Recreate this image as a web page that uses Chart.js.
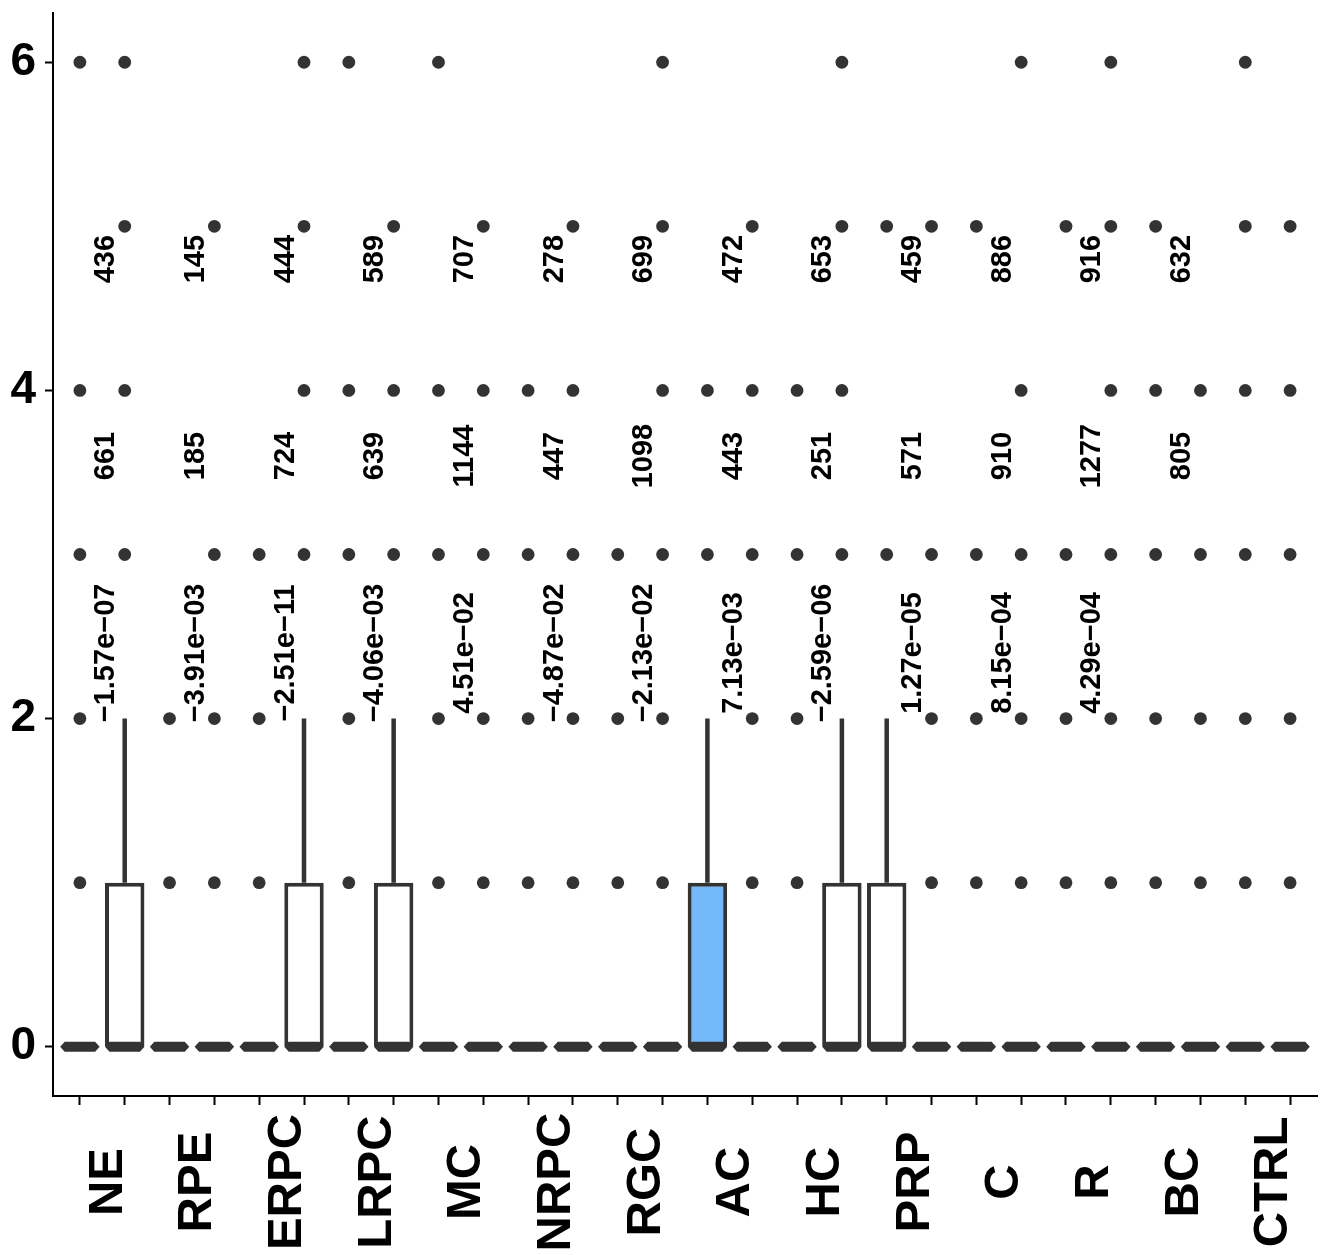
<!DOCTYPE html>
<html>
<head>
<meta charset="utf-8">
<script src="https://cdn.jsdelivr.net/npm/chart.js@4.4.1/dist/chart.umd.min.js"></script>
<style>
  html, body { margin: 0; padding: 0; background: #fff; }
  #wrap { width: 1324px; height: 1255px; position: relative; }
</style>
</head>
<body>
<div id="wrap"><canvas id="chart"></canvas></div>
<script>
// cell types, each one has two slots (left / right) on the x axis
const categories = ['NE', 'RPE', 'ERPC', 'LRPC', 'MC', 'NRPC', 'RGC', 'AC', 'HC', 'PRP', 'C', 'R', 'BC', 'CTRL'];
const yTicks = [0, 2, 4, 6];

// median of every slot (28 slots)
const medians = [0, 0, 0, 0, 0, 0, 0, 0, 0, 0, 0, 0, 0, 0, 0, 0, 0, 0, 0, 0, 0, 0, 0, 0, 0, 0, 0, 0];

// slots that have a real box (Q1 < Q3)
const boxSlots = [1, 5, 7, 14, 17, 18];
const boxLower = [0, 0, 0, 0, 0, 0];
const boxUpper = [1, 1, 1, 1, 1, 1];
const whiskerTop = [2, 2, 2, 2, 2, 2];

// outlier values per slot
const outliers = [
    [1, 2, 3, 4, 6],       // NE
    [3, 4, 5, 6],
    [1, 2],                // RPE
    [1, 2, 3, 5],
    [1, 2, 3],             // ERPC
    [3, 4, 5, 6],
    [1, 2, 3, 4, 6],       // LRPC
    [3, 4, 5],
    [1, 2, 3, 4, 6],       // MC
    [1, 2, 3, 4, 5],
    [1, 2, 3, 4],          // NRPC
    [1, 2, 3, 4, 5],
    [1, 2, 3],             // RGC
    [1, 2, 3, 4, 5, 6],
    [3, 4],                // AC
    [1, 2, 3, 4, 5],
    [1, 2, 3, 4],          // HC
    [3, 4, 5, 6],
    [3, 5],                // PRP
    [1, 2, 3, 5],
    [1, 2, 3, 5],          // C
    [1, 2, 3, 4, 6],
    [1, 2, 3, 5],          // R
    [1, 2, 3, 4, 5, 6],
    [1, 2, 3, 4, 5],       // BC
    [1, 2, 3, 4],
    [1, 2, 3, 4, 5, 6],    // CTRL
    [1, 2, 3, 4, 5],
];

// annotations per cell type (CTRL has none)
const countsTop = [436, 145, 444, 589, 707, 278, 699, 472, 653, 459, 886, 916, 632];
const countsMid = [661, 185, 724, 639, 1144, 447, 1098, 443, 251, 571, 910, 1277, 805];
const pValues = ['\u22121.57e\u221207', '\u22123.91e\u221203', '\u22122.51e\u221211', '\u22124.06e\u221203',
                 '4.51e\u221202', '\u22124.87e\u221202', '\u22122.13e\u221202', '7.13e\u221203',
                 '\u22122.59e\u221206', '1.27e\u221205', '8.15e\u221204', '4.29e\u221204'];

// style
const DARK = '#333333';
const HIGHLIGHT = '#74b9fa';
const HIGHLIGHT_SLOT = 14;
const BOX_WIDTH = 0.88;   // fraction of slot spacing
const FONT = "'Liberation Sans', Arial, Helvetica, sans-serif";
const ROW_TOP = 4.8, ROW_MID = 3.6, ROW_P = 2.4;  // y levels of the text rows

Chart.defaults.font.family = FONT;

const slots = categories.flatMap((c, i) => [2 * i, 2 * i + 1]);

const boxData = boxSlots.map((s, i) => ({ x: s, y: [boxLower[i], boxUpper[i]] }));
const pointData = outliers.flatMap((vals, s) => vals.map(v => ({ x: s, y: v })));

const boxExtras = {
    id: 'boxExtras',
    afterDatasetsDraw(chart) {
        const { ctx, scales: { x, y } } = chart;
        const halfW = (x.getPixelForValue(1) - x.getPixelForValue(0)) * BOX_WIDTH / 2;
        ctx.save();
        ctx.strokeStyle = DARK;
        ctx.fillStyle = DARK;
        // whiskers
        ctx.lineWidth = 4.5;
        boxSlots.forEach((s, i) => {
            const px = x.getPixelForValue(s);
            ctx.beginPath();
            ctx.moveTo(px, y.getPixelForValue(boxUpper[i]));
            ctx.lineTo(px, y.getPixelForValue(whiskerTop[i]));
            ctx.stroke();
        });
        // medians (thick band with bevelled ends)
        medians.forEach((m, s) => {
            const px = x.getPixelForValue(s), py = y.getPixelForValue(m);
            ctx.beginPath();
            ctx.moveTo(px - halfW, py);
            ctx.lineTo(px - halfW + 4.5, py - 5);
            ctx.lineTo(px + halfW - 4.5, py - 5);
            ctx.lineTo(px + halfW, py);
            ctx.lineTo(px + halfW - 4.5, py + 5);
            ctx.lineTo(px - halfW + 4.5, py + 5);
            ctx.closePath();
            ctx.fill();
        });
        ctx.restore();
    }
};

const textLayer = {
    id: 'textLayer',
    afterDraw(chart) {
        const { ctx, chartArea, scales: { x, y } } = chart;
        const drawUp = (txt, px, py, size) => {
            ctx.save();
            ctx.translate(px, py);
            ctx.rotate(-Math.PI / 2);
            ctx.font = `bold ${size}px ${FONT}`;
            ctx.fillStyle = '#000';
            ctx.textAlign = 'center';
            ctx.textBaseline = 'middle';
            ctx.fillText(txt, 0, 0);
            ctx.restore();
        };
        categories.forEach((c, i) => {
            const cx = x.getPixelForValue(2 * i + 0.5);
            if (i < countsTop.length) drawUp(String(countsTop[i]), cx + 4, y.getPixelForValue(ROW_TOP), 29);
            if (i < countsMid.length) drawUp(String(countsMid[i]), cx + 4, y.getPixelForValue(ROW_MID), 29);
            if (i < pValues.length) drawUp(pValues[i], cx + 4, y.getPixelForValue(ROW_P), 29);
            // category labels under the axis
            drawUp(c, cx + 6, chartArea.bottom + 86, 49);
        });
    }
};

new Chart(document.getElementById('chart'), {
    type: 'bar',
    data: {
        datasets: [
            {
                type: 'scatter',
                data: pointData,
                pointRadius: 6.4,
                pointBorderWidth: 0,
                pointBackgroundColor: DARK,
                pointHoverRadius: 6.4,
            },
            {
                type: 'bar',
                data: boxData,
                backgroundColor: boxSlots.map(s => s === HIGHLIGHT_SLOT ? HIGHLIGHT : '#ffffff'),
                borderColor: DARK,
                borderWidth: 4,
                borderSkipped: false,
                categoryPercentage: 1,
                barPercentage: BOX_WIDTH,
            },
        ]
    },
    options: {
        responsive: true,
        maintainAspectRatio: false,
        animation: false,
        events: [],
        layout: { padding: { top: 13, right: 7, left: 0, bottom: 0 } },
        plugins: {
            legend: { display: false },
            tooltip: { enabled: false },
        },
        scales: {
            x: {
                type: 'linear',
                min: -0.6,
                max: 27.6,
                offset: false,
                afterBuildTicks: (scale) => { scale.ticks = slots.map(v => ({ value: v })); },
                afterFit: (scale) => {
                    scale.height = 159;
                    scale.paddingLeft = 0;
                    scale.paddingRight = 0;
                },
                ticks: { display: false },
                grid: {
                    offset: false,
                    drawOnChartArea: false,
                    drawTicks: true,
                    tickLength: 9,
                    tickColor: '#000',
                    tickWidth: 2,
                },
                border: { display: true, color: '#000', width: 2 },
            },
            y: {
                type: 'linear',
                min: -0.3,
                max: 6.3,
                afterBuildTicks: (scale) => { scale.ticks = yTicks.map(v => ({ value: v })); },
                afterFit: (scale) => {
                    scale.width = 53;
                    scale.paddingTop = 0;
                    scale.paddingBottom = 0;
                },
                ticks: {
                    color: '#000',
                    font: { size: 46, weight: 'bold' },
                    padding: 9,
                },
                grid: {
                    drawOnChartArea: false,
                    drawTicks: true,
                    tickLength: 8,
                    tickColor: '#000',
                    tickWidth: 2,
                },
                border: { display: true, color: '#000', width: 2 },
            },
        },
    },
    plugins: [boxExtras, textLayer],
});
</script>
</body>
</html>
